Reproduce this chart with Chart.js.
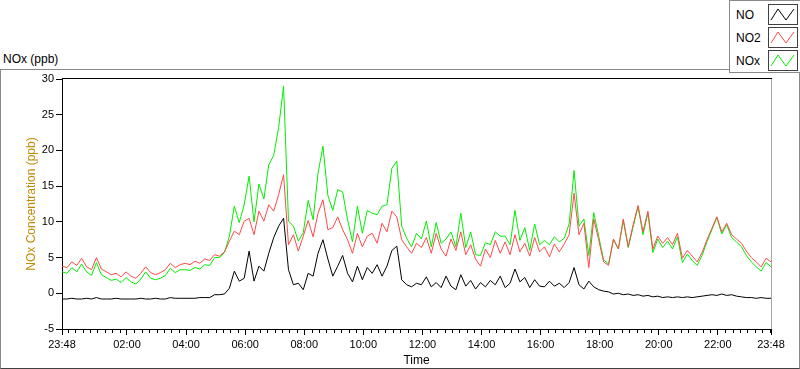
<!DOCTYPE html>
<html>
<head>
<meta charset="utf-8">
<script src="https://cdn.jsdelivr.net/npm/chart.js@4/dist/chart.umd.min.js"></script>
<style>
  body { margin: 0; background: #fff; font-family: "Liberation Sans", Arial, sans-serif; }
  #wrap { position: relative; width: 800px; height: 369px; overflow: hidden; }
  #frame { position: absolute; left: 0; top: 69px; width: 798px; height: 298px;
           border: 1px solid #8a8a8a; border-bottom-color: #404040; }
  #ptitle { position: absolute; left: 3px; top: 52px; font-size: 12px; color: #000; }
  #legend { position: absolute; left: 729px; top: 0; width: 70px; height: 71px;
            border: 1px solid #8a8a8a; border-right: none; background: #fff; }
  .row { position: absolute; left: 0; width: 70px; height: 22px; }
  .row span { position: absolute; left: 6px; top: 4px; font-size: 12px; color: #000; }
  .row svg { position: absolute; left: 38px; top: 0; }
  canvas { position: absolute; left: 0; top: 0; }
</style>
</head>
<body>
<div id="wrap">
  <div id="frame"></div>
  <div id="ptitle">NOx (ppb)</div>
  <div id="legend"></div>
  <canvas id="chart" width="800" height="369"></canvas>
</div>
<script>
// samples every 10 minutes, starting 23:48
const SAMPLE_STEP = 10;

const no = [
  -0.8, -0.8, -0.7, -0.8, -0.8, -0.7, -0.8, -0.6, -0.8, -0.8,
  -0.8, -0.7, -0.8, -0.8, -0.8, -0.8, -0.7, -0.8, -0.8, -0.7,
  -0.8, -0.8, -0.6, -0.7, -0.7, -0.7, -0.7, -0.7, -0.6, -0.6,
  -0.6, -0.2, -0.2, -0.1, 0.7, 3.1, 1.7, 2.1, 5.9, 1.7,
  3.8, 3.1, 5.6, 7.8, 9.4, 10.5, 3.3, 1.2, 1.4, 0.5,
  2.8, 2.4, 5.6, 7.5, 4.8, 2.4, 3.8, 5.3, 2.8, 1.6,
  3.8, 1.9, 3.6, 2.8, 4.0, 2.4, 3.8, 6.0, 6.6, 1.9,
  1.2, 0.9, 1.4, 1.2, 2.3, 0.9, 1.5, 0.8, 2.4, 1.0,
  0.5, 2.6, 1.0, 1.8, 0.6, 1.5, 0.9, 1.8, 1.2, 2.4,
  0.8, 1.4, 3.4, 1.6, 2.2, 0.8, 1.9, 1.0, 0.9, 1.7,
  1.0, 1.4, 0.8, 1.5, 3.6, 1.2, 0.6, 1.7, 0.9, 0.5,
  0.3, 0.2, -0.1, 0.0, -0.2, -0.1, -0.3, -0.2, -0.4, -0.3,
  -0.5, -0.4, -0.6, -0.5, -0.6, -0.5, -0.6, -0.5, -0.6, -0.5,
  -0.4, -0.3, -0.2, -0.3, -0.1, -0.3, -0.2, -0.4, -0.5, -0.6,
  -0.6, -0.7, -0.6, -0.7, -0.7
];

const no2 = [
  3.8, 3.6, 4.4, 3.9, 4.9, 3.7, 3.3, 5.0, 3.4, 3.0,
  2.6, 2.8, 2.3, 3.0, 2.4, 2.1, 2.8, 3.7, 2.9, 2.6,
  2.9, 3.3, 4.2, 3.6, 4.0, 4.2, 4.0, 4.5, 4.2, 4.8,
  4.6, 5.4, 5.2, 5.8, 7.3, 8.7, 8.2, 10.1, 10.5, 8.2,
  11.5, 10.1, 12.4, 11.5, 13.8, 16.6, 6.8, 8.2, 5.9, 8.0,
  10.2, 7.9, 11.2, 13.1, 8.9, 9.2, 10.7, 8.9, 7.5, 5.6,
  8.4, 6.5, 8.0, 8.4, 7.0, 9.8, 8.6, 11.5, 10.7, 7.5,
  6.5, 5.6, 7.0, 6.4, 7.8, 5.6, 8.4, 6.2, 5.2, 7.6,
  6.0, 8.6, 5.4, 6.8, 4.8, 3.8, 6.2, 5.0, 7.4, 5.6,
  7.2, 5.4, 8.2, 5.8, 7.0, 5.2, 7.8, 5.8, 6.5, 5.1,
  6.9, 5.8, 6.9, 8.2, 14.0, 8.2, 9.8, 3.6, 10.4, 7.5,
  4.4, 3.9, 7.6, 6.2, 10.4, 6.5, 9.6, 12.3, 8.6, 11.5,
  6.2, 8.0, 7.0, 7.8, 6.8, 8.4, 4.9, 6.0, 5.2, 4.4,
  5.7, 7.5, 9.1, 10.7, 8.6, 9.8, 8.2, 7.6, 7.0, 5.9,
  5.0, 4.4, 3.7, 4.9, 4.4
];

const nox = [
  3.0, 2.8, 3.6, 3.0, 4.1, 3.0, 2.5, 4.3, 2.6, 2.2,
  1.8, 2.0, 1.5, 2.2, 1.6, 1.3, 2.0, 3.0, 2.1, 1.9,
  2.1, 2.5, 3.5, 2.9, 3.3, 3.3, 3.2, 3.6, 3.4, 4.0,
  3.9, 5.0, 5.0, 5.7, 8.0, 12.2, 9.9, 12.4, 16.4, 10.0,
  15.3, 13.2, 18.0, 19.3, 23.2, 29.0, 10.1, 9.4, 7.3, 8.5,
  13.0, 10.3, 16.8, 20.6, 13.7, 11.6, 14.5, 14.2, 10.3, 7.2,
  12.2, 8.4, 11.6, 11.2, 11.0, 12.2, 12.4, 17.5, 18.5, 9.4,
  7.7, 6.5, 8.4, 7.6, 10.1, 6.5, 9.9, 7.0, 7.6, 8.6,
  6.5, 11.2, 6.4, 8.6, 5.4, 5.3, 7.1, 6.8, 8.6, 8.0,
  8.0, 6.8, 11.6, 7.4, 9.2, 6.0, 9.7, 6.8, 7.4, 6.8,
  7.9, 7.2, 7.7, 9.7, 17.2, 9.4, 10.4, 5.3, 11.3, 8.0,
  4.7, 4.1, 7.5, 6.2, 10.2, 6.4, 9.3, 12.1, 8.2, 11.2,
  5.7, 7.6, 6.4, 7.3, 6.2, 7.9, 4.3, 5.5, 4.6, 3.9,
  5.3, 7.2, 8.9, 10.6, 8.3, 9.6, 7.8, 7.2, 6.5, 5.3,
  4.4, 3.7, 3.1, 4.3, 3.7
];

// x ticks, in minutes after 23:48
const tickMinutes = [0, 132, 252, 372, 492, 612, 732, 852, 972, 1092, 1212, 1332, 1440];
const tickLabels = ['23:48', '02:00', '04:00', '06:00', '08:00', '10:00', '12:00',
                    '14:00', '16:00', '18:00', '20:00', '22:00', '23:48'];

const seriesNames = ['NO', 'NO2', 'NOx'];
const seriesColors = ['#000000', '#ff4848', '#00ee00'];

// legend with zigzag swatches
const legend = document.getElementById('legend');
seriesNames.forEach((name, i) => {
  const row = document.createElement('div');
  row.className = 'row';
  row.style.top = (3 + i * 23) + 'px';
  row.innerHTML = `<span>${name}</span>
    <svg width="31" height="22"><rect x="0.5" y="0.5" width="29" height="20" fill="#fff" stroke="#404040"/>
    <polyline points="3,16 10,5 18,16 26,5" fill="none" stroke="${seriesColors[i]}" stroke-width="1"/></svg>`;
  legend.appendChild(row);
});

const toPoints = arr => arr.map((v, i) => ({ x: i * SAMPLE_STEP, y: v }));

const framePlugin = {
  id: 'frame',
  afterDraw(chart) {
    const { ctx, chartArea: a, scales: { x } } = chart;
    ctx.save();
    ctx.lineWidth = 1;
    ctx.strokeStyle = '#000';
    ctx.beginPath();
    ctx.moveTo(a.left, a.top - 0.5);
    ctx.lineTo(a.right + 1, a.top - 0.5);
    ctx.stroke();
    ctx.strokeStyle = '#a8a8a8';
    ctx.beginPath();
    ctx.moveTo(a.right + 0.5, a.top);
    ctx.lineTo(a.right + 0.5, a.bottom);
    ctx.stroke();
    // minor ticks every 15 min on whole quarters
    ctx.strokeStyle = '#000';
    ctx.beginPath();
    for (let m = 12; m < 1440; m += 15) {
      if (tickMinutes.includes(m)) continue;
      const px = Math.round(x.getPixelForValue(m)) + 0.5;
      ctx.moveTo(px, a.bottom);
      ctx.lineTo(px, a.bottom + 4);
    }
    ctx.stroke();
    ctx.restore();
  }
};

Chart.defaults.font.family = '"Liberation Sans", Arial, sans-serif';
Chart.defaults.color = '#000';

new Chart(document.getElementById('chart'), {
  type: 'line',
  data: {
    datasets: seriesNames.map((name, i) => ({
      label: name,
      data: toPoints([no, no2, nox][i]),
      borderColor: seriesColors[i],
      borderWidth: 1,
      pointRadius: 0,
      tension: 0
    }))
  },
  options: {
    responsive: false,
    animation: false,
    layout: { padding: { top: 79, right: 29, left: 0, bottom: 0 } },
    plugins: { legend: { display: false }, tooltip: { enabled: false } },
    scales: {
      x: {
        type: 'linear', min: 0, max: 1440,
        afterBuildTicks: s => { s.ticks = tickMinutes.map(v => ({ value: v })); },
        afterFit: s => { s.height = 40; },
        ticks: {
          autoSkip: false, maxRotation: 0, padding: 3, font: { size: 11 },
          callback: v => tickLabels[tickMinutes.indexOf(v)]
        },
        grid: { drawOnChartArea: false, tickLength: 6, color: '#000' },
        border: { color: '#000' },
        title: { display: true, text: 'Time', font: { size: 12 }, padding: { top: 0, bottom: 1 } }
      },
      y: {
        min: -5, max: 30,
        afterFit: s => { s.width = 62; },
        ticks: { stepSize: 5, padding: 2, font: { size: 11 } },
        grid: { drawOnChartArea: false, tickLength: 6, color: '#000' },
        border: { color: '#000' },
        title: { display: true, text: 'NOx Concentration (ppb)', color: '#c08a00',
                 font: { size: 12 }, padding: { top: 24, bottom: 0 } }
      }
    }
  },
  plugins: [framePlugin]
});
</script>
</body>
</html>
